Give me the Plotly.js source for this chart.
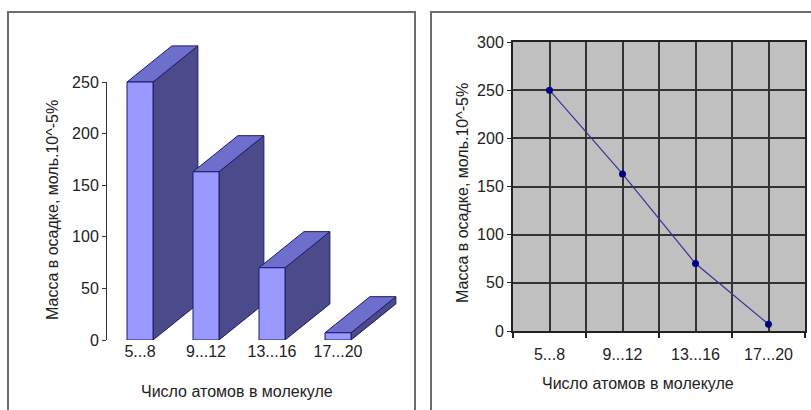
<!DOCTYPE html>
<html>
<head>
<meta charset="utf-8">
<script src="https://cdn.plot.ly/plotly-3.0.1.min.js"></script>
<style>html,body{margin:0;padding:0;background:#fff;}#chart{width:811px;height:410px;}</style>
</head>
<body>
<div id="chart"></div>
<script>
// ---- data ----
const categories = ["5...8", "9...12", "13...16", "17...20"];
const massValues = [250, 163, 70, 7];
const yTitle = "Масса в осадке, моль.10^-5%";
const xTitle = "Число атомов в молекуле";
const leftTicks = [0, 50, 100, 150, 200, 250];
const rightTicks = [0, 50, 100, 150, 200, 250, 300];

// ---- style / layout constants ----
const W = 811, H = 410;
const FONT = {family: "Liberation Sans, Arial, sans-serif", size: 16, color: "#222"};
const barW = 0.394;      // bar width in category units
const depthX = 0.68;     // oblique depth in category units
const depthY = 35;       // oblique depth in value units
const frontCol = "#9999FF", topCol = "#6E6ECC", sideCol = "#4B4B8C", edgeCol = "#1C1C66";

function px2x(p){ return p / W; }
function px2y(p){ return 1 - p / H; }

// left chart pixel frame
const L = {x0: 107, x1: 404, yZero: 340, yTop250: 82};
const pxPerUnitL = (L.yZero - L.yTop250) / 250;
const leftDrawMax = 300;
const leftDrawTopPx = L.yZero - leftDrawMax * pxPerUnitL;

// right chart pixel frame
const R = {x0: 513, x1: 805, yZero: 331, yTop: 42};

const xs = categories.map((c, i) => i);
const traces = [];

// placeholder so that the visible left value axis (y2) is created
traces.push({type: "scatter", mode: "none", x: [], y: [], xaxis: "x", yaxis: "y2",
             hoverinfo: "skip", showlegend: false});

// 3D bars (oblique projection), drawn bar by bar so nearer bars occlude
categories.forEach((c, i) => {
  const v = massValues[i];
  const l = xs[i] - barW / 2, r = xs[i] + barW / 2;
  const common = {type: "scatter", mode: "lines", fill: "toself", xaxis: "x", yaxis: "y",
                  line: {color: edgeCol, width: 1}, hoverinfo: "skip", showlegend: false};
  traces.push(Object.assign({}, common, {
    x: [r, r + depthX, r + depthX, r, r], y: [0, depthY, v + depthY, v, 0], fillcolor: sideCol}));
  traces.push(Object.assign({}, common, {
    x: [l, l + depthX, r + depthX, r, l], y: [v, v + depthY, v + depthY, v, v], fillcolor: topCol}));
  traces.push(Object.assign({}, common, {
    x: [l, r, r, l, l], y: [0, 0, v, v, 0], fillcolor: frontCol,
    hoverinfo: "text", text: c + ": " + v}));
});

// right line chart
traces.push({
  type: "scatter", mode: "lines+markers", x: xs, y: massValues, xaxis: "x2", yaxis: "y3",
  line: {color: "#34349a", width: 1.2}, marker: {color: "#000080", size: 7},
  showlegend: false, hovertemplate: "%{text}: %{y}<extra></extra>", text: categories
});

const layout = {
  width: W, height: H, margin: {l: 0, r: 0, t: 0, b: 0},
  paper_bgcolor: "#fff", plot_bgcolor: "rgba(0,0,0,0)",
  font: FONT, showlegend: false,
  xaxis: {domain: [px2x(L.x0), px2x(L.x1)], range: [-0.5, 4.0], anchor: "y",
          showgrid: false, zeroline: false, showline: false, ticks: "",
          tickmode: "array", tickvals: xs, ticktext: categories, tickfont: FONT, fixedrange: true},
  yaxis: {domain: [px2y(L.yZero), px2y(leftDrawTopPx)], range: [0, leftDrawMax], anchor: "x",
          visible: false, fixedrange: true},
  yaxis2: {domain: [px2y(L.yZero), px2y(L.yTop250)], range: [0, 250], anchor: "x",
           showline: true, linecolor: "#333", linewidth: 1, ticks: "outside", ticklen: 4,
           tickcolor: "#333", tickmode: "array", tickvals: leftTicks, showgrid: false,
           zeroline: false, tickfont: FONT, fixedrange: true},
  xaxis2: {domain: [px2x(R.x0), px2x(R.x1)], range: [-0.5, 3.5], anchor: "y3",
           showline: true, linecolor: "#222", linewidth: 2, mirror: true,
           ticks: "", tickmode: "array", tickvals: xs, ticktext: categories,
           showgrid: true, gridcolor: "#333", gridwidth: 2, zeroline: false,
           ticklabelstandoff: 8, tickfont: FONT, fixedrange: true,
           minor: {tickmode: "array", tickvals: [-0.5, 0.5, 1.5, 2.5, 3.5], ticks: "outside",
                   ticklen: 5, tickcolor: "#222", tickwidth: 1.5,
                   showgrid: true, gridcolor: "#333", gridwidth: 2}},
  yaxis3: {domain: [px2y(R.yZero), px2y(R.yTop)], range: [0, 300], anchor: "x2",
           showline: true, linecolor: "#222", linewidth: 2, mirror: true,
           ticks: "outside", ticklen: 4, tickcolor: "#222",
           tickmode: "array", tickvals: rightTicks, showgrid: true, gridcolor: "#333",
           gridwidth: 2, zeroline: false, tickfont: FONT, fixedrange: true},
  shapes: [
    {type: "rect", xref: "paper", yref: "paper", x0: px2x(8), x1: px2x(415), y0: px2y(12), y1: px2y(420),
     line: {color: "#6c6c6c", width: 2}, fillcolor: "rgba(0,0,0,0)", layer: "below"},
    {type: "rect", xref: "paper", yref: "paper", x0: px2x(431), x1: px2x(820), y0: px2y(12), y1: px2y(420),
     line: {color: "#6c6c6c", width: 2}, fillcolor: "rgba(0,0,0,0)", layer: "below"},
    {type: "rect", xref: "x2 domain", yref: "y3 domain", x0: 0, x1: 1, y0: 0, y1: 1,
     fillcolor: "#C0C0C0", line: {width: 0}, layer: "below"}
  ],
  annotations: [
    {xref: "paper", yref: "paper", x: px2x(52), y: px2y(210), text: yTitle, textangle: -90,
     showarrow: false, font: FONT, xanchor: "center", yanchor: "middle"},
    {xref: "paper", yref: "paper", x: px2x(237), y: px2y(391), text: xTitle,
     showarrow: false, font: FONT, xanchor: "center", yanchor: "middle"},
    {xref: "paper", yref: "paper", x: px2x(462), y: px2y(193), text: yTitle, textangle: -90,
     showarrow: false, font: FONT, xanchor: "center", yanchor: "middle"},
    {xref: "paper", yref: "paper", x: px2x(638), y: px2y(383), text: xTitle,
     showarrow: false, font: FONT, xanchor: "center", yanchor: "middle"}
  ]
};

Plotly.newPlot("chart", traces, layout, {displayModeBar: false});
</script>
</body>
</html>
